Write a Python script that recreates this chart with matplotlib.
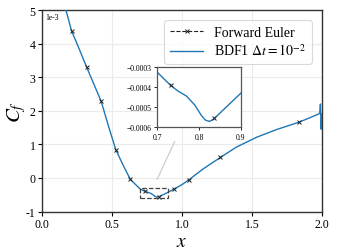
import numpy as np
import matplotlib
matplotlib.use("Agg")
import matplotlib.pyplot as plt
from matplotlib.lines import Line2D
from matplotlib.patches import Rectangle

plt.rcParams['font.family'] = ['Liberation Serif', 'DejaVu Serif']
plt.rcParams['mathtext.fontset'] = 'stix'

# Forward Euler markers (x, Cf in units of 1e-3)
x_fe = [0.212, 0.319, 0.423, 0.527, 0.631, 0.733, 0.835, 0.941, 1.052, 1.275, 1.837]
cf_fe = [4.37, 3.30, 2.28, 0.845, -0.04, -0.39, -0.556, -0.34, -0.05, 0.61, 1.66]

# BDF1 curve (x, Cf in units of 1e-3)
x_bdf = [0.171, 0.212, 0.265, 0.319, 0.37, 0.423, 0.474, 0.527, 0.581, 0.631,
         0.70, 0.733, 0.75, 0.77, 0.79, 0.805, 0.815, 0.825, 0.835, 0.85, 0.87, 0.90,
         0.941, 1.0, 1.052, 1.152, 1.275, 1.39, 1.533, 1.676, 1.837, 1.93, 1.975,
         1.985, 1.99, 1.995, 2.0]
cf_bdf = [5.0, 4.37, 3.85, 3.30, 2.80, 2.28, 1.56, 0.845, 0.37, -0.04,
          -0.325, -0.393, -0.42, -0.445, -0.49, -0.54, -0.565, -0.572, -0.56, -0.53, -0.49, -0.43,
          -0.34, -0.20, -0.05, 0.27, 0.61, 0.92, 1.21, 1.44, 1.66, 1.82, 1.90,
          1.92, 2.20, 1.45, 1.90]

scale = 1e-3
xf = np.array(x_fe); yf = np.array(cf_fe) * scale
xb = np.array(x_bdf); yb = np.array(cf_bdf) * scale

fig = plt.figure(figsize=(3.37, 2.53), dpi=100)
ax = fig.add_axes([0.1246, 0.160, 0.8304, 0.7965])

blue = '#1f77b4'
ax.plot(xb, yb, color=blue, lw=1.0, zorder=3)
ax.plot(xf, yf, ls='none', marker='x', ms=3.5, mew=0.7, color='#222222', zorder=4)

ax.set_xlim(0, 2.0)
ax.set_ylim(-1e-3, 5e-3)
ax.set_xticks([0.0, 0.5, 1.0, 1.5, 2.0])
ax.set_xticklabels(['0.0', '0.5', '1.0', '1.5', '2.0'])
yt = [-1, 0, 1, 2, 3, 4, 5]
ax.set_yticks([v * scale for v in yt])
ax.set_yticklabels(['-1', '0', '1', '2', '3', '4', '5'])
ax.tick_params(labelsize=8.5, length=3, width=0.8, pad=1.5)
ax.grid(True, color='#ebebeb', lw=0.8)
ax.set_axisbelow(True)
for s in ax.spines.values():
    s.set_color('#333333'); s.set_linewidth(1.0)
ax.text(0.012, 0.985, '1e-3', transform=ax.transAxes, va='top', ha='left', fontsize=5.5)

ax.set_xlabel(r'$x$', fontsize=14, labelpad=2)
ax.set_ylabel(r'$C_f$', fontsize=15)
ax.yaxis.set_label_coords(-0.05, 0.5)

# zoom rectangle
rect = Rectangle((0.7, -0.6e-3), 0.2, 0.3e-3, fill=False, ls='--', lw=0.9,
                 edgecolor='#444444', zorder=5)
ax.add_patch(rect)
ax.annotate('', xy=(0.957, 1.16e-3), xytext=(0.814, -0.12e-3),
            arrowprops=dict(arrowstyle='-', color='#c8c8c8', lw=0.8))

handles = [Line2D([], [], color='#222222', ls='--', lw=0.8, marker='x', ms=3, mew=0.7),
           Line2D([], [], color=blue, lw=1.0)]
leg = ax.legend(handles, ['Forward Euler', r'BDF1 $\Delta t = 10^{-2}$'], loc='upper right',
                fontsize=10, frameon=True, borderpad=0.4, handlelength=2.4,
                labelspacing=0.3, bbox_to_anchor=(0.99, 0.985))
leg.get_frame().set_edgecolor('#d0d0d0')
leg.get_frame().set_linewidth(0.8)

# inset
axi = fig.add_axes([0.466, 0.494, 0.249, 0.237])
axi.plot(xb, yb, color=blue, lw=1.0)
axi.plot(xf, yf, ls='none', marker='x', ms=3.5, mew=0.7, color='#222222')
axi.set_xlim(0.7, 0.9)
axi.set_ylim(-0.0006, -0.0003)
axi.set_xticks([0.7, 0.8, 0.9])
axi.set_xticklabels(['0.7', '0.8', '0.9'])
axi.set_yticks([-0.0006, -0.0005, -0.0004, -0.0003])
axi.set_yticklabels(['\u22120.0006', '\u22120.0005', '\u22120.0004', '\u22120.0003'])
axi.tick_params(labelsize=5.5, length=2.5, width=0.6, pad=1.5)
for s in axi.spines.values():
    s.set_color('#555555'); s.set_linewidth(0.9)

fig.savefig('out.png', dpi=100)
